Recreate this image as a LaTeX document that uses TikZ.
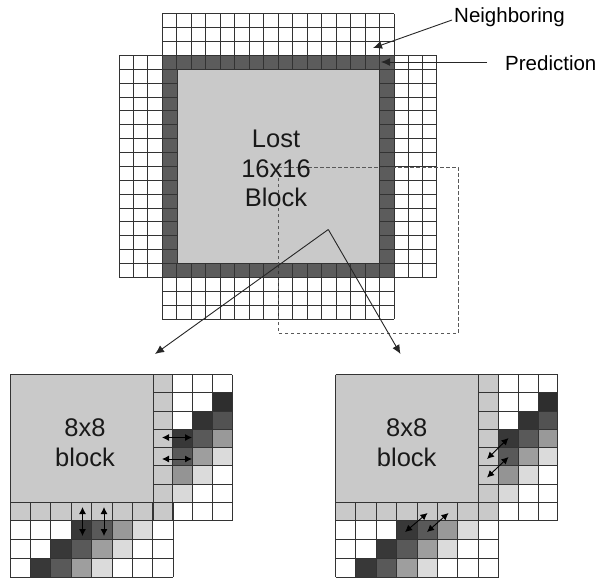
\documentclass[tikz,border=0pt]{standalone}
\usepackage{fontspec}
\setmainfont{Liberation Sans}
\usetikzlibrary{arrows.meta}
\definecolor{gridline}{gray}{0.2}
\definecolor{blockgrey}{gray}{0.79}
\definecolor{darkband}{gray}{0.36}
\tikzset{
  gridstyle/.style={draw=gridline,line width=0.9pt},
  biglabel/.style={font=\fontsize{25.5}{29}\selectfont,text=black!90,inner sep=0pt,align=center},
  sidelabel/.style={font=\fontsize{20.5}{24}\selectfont,text=black,inner sep=0pt,anchor=base west},
  leader/.style={draw=black!85,line width=0.9pt,-{Latex[length=9pt,width=8pt]}},
  dbl/.style={draw=black,line width=0.9pt,{Latex[length=7pt,width=7pt]}-{Latex[length=7pt,width=7pt]}},
  dashbox/.style={draw=black!65,line width=1pt,dash pattern=on 3.5pt off 2.5pt},
}
\newcommand{\panelgrid}[1]{%
  % big block
  \fill[blockgrey] (10,374.5) rectangle (153,502);
  % grey column and row
  \fill[blockgrey] (153,374.5) rectangle (173,520.75);
  \fill[blockgrey] (10,502) rectangle (173,520.75);
  % right-hand shaded cells: col,row,shade
  \foreach \c/\r/\g in {2/1/82,1/2/80,2/2/68,0/3/78,1/3/65,2/3/40,0/4/65,1/4/38,2/4/14,0/5/42,1/5/14,0/6/15}{
    \fill[black!\g] ({173+\c*19.85},{374.5+\r*18.28}) rectangle ({173+(\c+1)*19.85},{374.5+(\r+1)*18.28});
  }
  % bottom shaded cells
  \foreach \c/\r/\g in {3/0/78,4/0/65,5/0/40,6/0/14,2/1/78,3/1/65,4/1/38,5/1/14,1/2/78,2/2/65,3/2/38,4/2/14}{
    \fill[black!\g] ({10+\c*20.4},{520.75+\r*18.75}) rectangle ({10+(\c+1)*20.4},{520.75+(\r+1)*18.75});
  }
  % right grid
  \foreach \r in {0,...,8}{\draw[gridstyle] (153,{374.5+\r*18.28}) -- (232.4,{374.5+\r*18.28});}
  \foreach \c in {0,...,4}{\draw[gridstyle] ({153+\c*19.85},374.5) -- ({153+\c*19.85},520.75);}
  % bottom grid
  \foreach \r in {0,...,4}{\draw[gridstyle] (10,{502+\r*18.75}) -- (173.2,{502+\r*18.75});}
  \foreach \c in {0,...,8}{\draw[gridstyle] ({10+\c*20.4},502) -- ({10+\c*20.4},577);}
  \draw[gridstyle] (10,374.5) -- (153,374.5) (10,374.5) -- (10,502);
  \node[biglabel] (blocktext) at (#1,443) {8x8\\[1pt]block};
}
\begin{document}
\begin{tikzpicture}[x=1pt,y=-1pt]
\useasboundingbox (0,0) rectangle (599,579);
\fill[white] (0,0) rectangle (599,579);
% main block
\fill[darkband] (162.3,55.5) rectangle (394.3,277.3);
\fill[blockgrey] (177,69.5) rectangle (379,263.3);
% top and bottom grids
\foreach \r in {0,...,3}{\draw[gridstyle] (162.3,{13.5+\r*14}) -- (394.3,{13.5+\r*14});}
\foreach \r in {0,...,3}{\draw[gridstyle] (162.3,{277.3+\r*14}) -- (394.3,{277.3+\r*14});}
\foreach \c in {0,...,16}{
  \draw[gridstyle] ({162.3+\c*14.5},13.5) -- ({162.3+\c*14.5},69.5);
  \draw[gridstyle] ({162.3+\c*14.5},263.3) -- ({162.3+\c*14.5},319.3);
}
% left and right grids
\foreach \r in {0,...,16}{
  \draw[gridstyle] (119,{55.5+\r*13.86}) -- (177,{55.5+\r*13.86});
  \draw[gridstyle] (379,{55.5+\r*13.86}) -- (436.7,{55.5+\r*13.86});
}
\foreach \c in {0,...,3}{
  \draw[gridstyle] ({119+\c*14.4},55.5) -- ({119+\c*14.4},277.3);
  \draw[gridstyle] ({394.3+\c*14.13},55.5) -- ({394.3+\c*14.13},277.3);
}
\draw[gridstyle] (177,69.5) rectangle (379,263.3);
% dashed region
\coordinate (dA) at (278,167);
\coordinate (dB) at (458,167);
\coordinate (dC) at (458,333);
\coordinate (dD) at (278,333);
\draw[dashbox] (dA) -- (dB) -- (dC) -- (dD) -- cycle;
% main label
\node[biglabel] (lost) at (276,168.5) {Lost\\[0.5pt]16x16\\[0.5pt]Block};
% splitting arrows
\coordinate (apex) at (328.3,229.5);
\coordinate (leftpanel) at (155,354);
\coordinate (rightpanel) at (400.5,354);
\draw[leader] (apex) -- (leftpanel);
\draw[leader] (apex) -- (rightpanel);
% side labels
\node[sidelabel] (neigh) at (454,22) {Neighboring};
\node[sidelabel] (pred) at (505,70.5) {Prediction};
\coordinate (neighStart) at (452,20);
\coordinate (neighEnd) at (373,48);
\coordinate (predStart) at (487,62);
\coordinate (predEnd) at (381,62);
\draw[leader] (neighStart) -- (neighEnd);
\draw[leader] (predStart) -- (predEnd);
% left panel
\begin{scope}[name prefix=L-]
  \panelgrid{85}
  \coordinate (a1) at (162,437.5); \coordinate (a2) at (192,437.5);
  \coordinate (b1) at (162,459);   \coordinate (b2) at (192,459);
  \coordinate (c1) at (82.5,507);  \coordinate (c2) at (82.5,536);
  \coordinate (d1) at (104,507);   \coordinate (d2) at (104,536);
  \draw[dbl] (a1) -- (a2); \draw[dbl] (b1) -- (b2);
  \draw[dbl] (c1) -- (c2); \draw[dbl] (d1) -- (d2);
\end{scope}
% right panel
\begin{scope}[xshift=325.5pt,name prefix=R-]
  \panelgrid{81.2}
  \coordinate (a1) at (161.5,459); \coordinate (a2) at (183,438);
  \coordinate (b1) at (161.5,477.5); \coordinate (b2) at (183,457);
  \coordinate (c1) at (79.5,532);  \coordinate (c2) at (102,513);
  \coordinate (d1) at (101.5,532); \coordinate (d2) at (123,513);
  \draw[dbl] (a1) -- (a2); \draw[dbl] (b1) -- (b2);
  \draw[dbl] (c1) -- (c2); \draw[dbl] (d1) -- (d2);
\end{scope}
\end{tikzpicture}
\end{document}
